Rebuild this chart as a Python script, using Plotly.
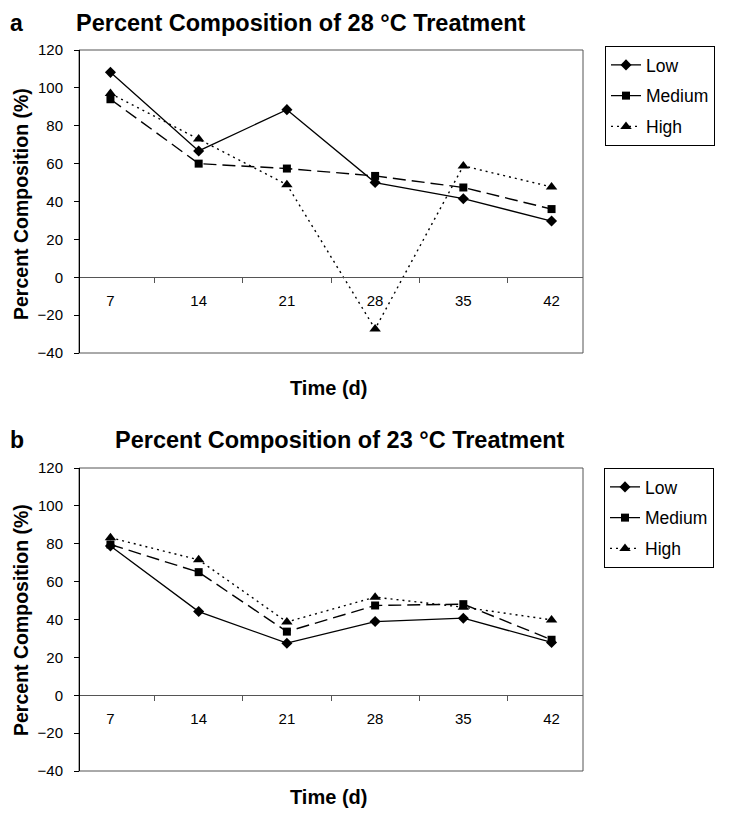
import plotly.graph_objects as go

# page is 753x818; browser body margin of 8px is compensated below
PAGE_W, PAGE_H = 753, 818
OFF = 8
W, H = PAGE_W - 2 * OFF, PAGE_H - 2 * OFF

days = ["7", "14", "21", "28", "35", "42"]
series_names = ["Low", "Medium", "High"]

# Panel a: 28 °C treatment
a_low = [108.2, 66.7, 88.5, 50.0, 41.5, 29.7]
a_medium = [94.0, 60.0, 57.4, 53.5, 47.4, 36.0]
a_high = [97.0, 73.0, 48.9, -27.3, 58.8, 47.7]

# Panel b: 23 °C treatment
b_low = [78.8, 44.2, 27.5, 38.9, 40.7, 27.9]
b_medium = [79.6, 65.0, 33.6, 47.4, 48.1, 29.3]
b_high = [83.2, 71.5, 38.7, 51.8, 46.5, 39.8]

y_ticks = [-40, -20, 0, 20, 40, 60, 80, 100, 120]

FONT = "Liberation Sans, Arial, sans-serif"

def px_x(x):
    return (x - OFF) / W

def px_y(y):
    return 1 - (y - OFF) / H

styles = {
    "Low": dict(dash="solid", symbol="diamond", size=8.5, width=1.3),
    "Medium": dict(dash="13px,6px", symbol="square", size=8, width=1.4),
    "High": dict(dash="2px,4px", symbol="triangle-up", size=10, width=1.4),
}

fig = go.Figure()

panels = [
    ("x", "y", "legend", [a_low, a_medium, a_high]),
    ("x2", "y2", "legend2", [b_low, b_medium, b_high]),
]
for xa, ya, lg, vals in panels:
    for name, v in zip(series_names, vals):
        s = styles[name]
        fig.add_trace(go.Scatter(
            x=days, y=v, name=name, xaxis=xa, yaxis=ya, legend=lg,
            legendgroup=lg + name,
            mode="lines+markers",
            line=dict(color="black", width=s["width"], dash=s["dash"]),
            marker=dict(color="black", symbol=s["symbol"], size=s["size"]),
        ))

xdom = [px_x(79), px_x(583)]
ydom_a = [px_y(353), px_y(50)]
ydom_b = [px_y(771), px_y(468)]

def zero_pos(dom):
    return dom[0] + (0 - (-40)) / 160 * (dom[1] - dom[0])

xcommon = dict(
    type="category", categoryorder="array", categoryarray=days,
    domain=xdom, anchor="free", showline=True, linecolor="#555", linewidth=1,
    ticks="outside", ticklen=5, tickcolor="#555", tickson="boundaries",
    showgrid=False, zeroline=False, ticklabelstandoff=10, automargin=False,
    tickfont=dict(family=FONT, size=15, color="black"),
)
ycommon = dict(
    range=[-40, 120], tickvals=y_ticks, showline=True, linecolor="black",
    linewidth=1, ticks="outside", ticklen=5, tickcolor="black",
    showgrid=False, zeroline=False, ticklabelstandoff=8, automargin=False,
    tickfont=dict(family=FONT, size=15, color="black"),
)

legend_common = dict(
    bgcolor="white", bordercolor="black", borderwidth=1,
    font=dict(family=FONT, size=17.5, color="black"),
    xanchor="left", yanchor="top", traceorder="grouped", tracegroupgap=5,
)

fig.update_layout(
    width=W, height=H,
    margin=dict(l=0, r=0, t=0, b=0, pad=0, autoexpand=False),
    plot_bgcolor="white", paper_bgcolor="white",
    xaxis=dict(xcommon, position=zero_pos(ydom_a)),
    yaxis=dict(ycommon, domain=ydom_a, anchor="free", position=xdom[0]),
    xaxis2=dict(xcommon, position=zero_pos(ydom_b)),
    yaxis2=dict(ycommon, domain=ydom_b, anchor="free", position=xdom[0]),
    legend=dict(legend_common, x=px_x(605), y=px_y(46)),
    legend2=dict(legend_common, x=px_x(604), y=px_y(468)),
    showlegend=True,
)

# plot-area frames
for xr, yr in [("x domain", "y domain"), ("x2 domain", "y2 domain")]:
    fig.add_shape(type="rect", xref=xr, yref=yr, x0=0, x1=1, y0=0, y1=1,
                  line=dict(color="#555", width=1), layer="below")

# (text, page x, paper y, size, xanchor, yanchor)
anns = [
    ("a", 8, 1.0, 23, "left", "top"),
    ("Percent Composition of 28 °C Treatment", 74, 1.0, 23.5, "left", "top"),
    ("b", 8, px_y(440), 23, "left", "middle"),
    ("Percent Composition of 23 °C Treatment", 113, px_y(440), 23.5, "left", "middle"),
    ("Time (d)", 328, px_y(388), 20, "center", "middle"),
    ("Time (d)", 328, 0.0, 20, "center", "bottom"),
]
for text, x, y, size, xa, ya in anns:
    fig.add_annotation(text="<b>%s</b>" % text, xref="paper", yref="paper",
                       x=px_x(x), y=y, xanchor=xa, yanchor=ya,
                       showarrow=False,
                       font=dict(family=FONT, size=size, color="black"))
for yc in [204, 620]:
    fig.add_annotation(text="<b>Percent Composition (%)</b>", xref="paper",
                       yref="paper", x=0.0, y=px_y(yc), textangle=-90,
                       xanchor="left", yanchor="middle", showarrow=False,
                       font=dict(family=FONT, size=19.5, color="black"))

fig.write_html("out.html")
